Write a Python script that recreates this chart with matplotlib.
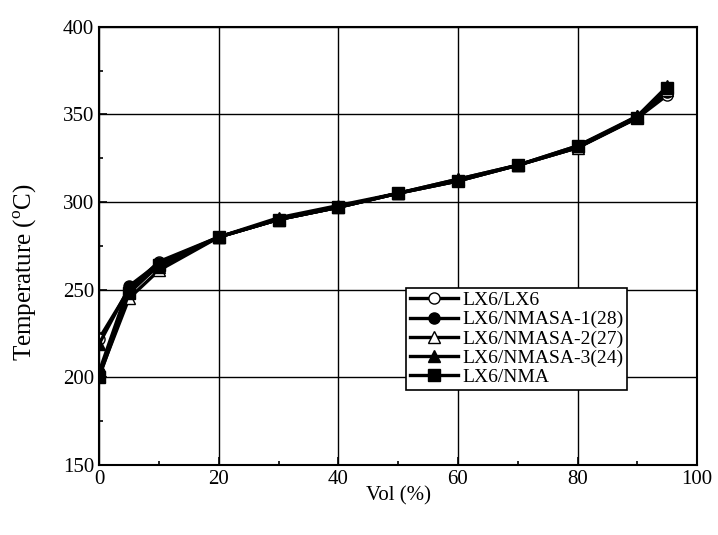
import numpy as np
import matplotlib
matplotlib.use("Agg")
import matplotlib.pyplot as plt
from matplotlib.ticker import MultipleLocator

plt.rcParams['font.family'] = ['Liberation Serif', 'DejaVu Serif']
plt.rcParams['mathtext.fontset'] = 'custom'
plt.rcParams['mathtext.rm'] = 'Liberation Serif'

# distillation volume (%) and temperatures for each blend
vol = [0, 5, 10, 20, 30, 40, 50, 60, 70, 80, 90, 95]
lx6_lx6 = [222, 250, 266, 280, 290, 297, 305, 312, 321, 331, 348, 361]
lx6_nmasa1 = [203, 252, 265, 280, 290, 297, 305, 312, 321, 331, 348, 363]
lx6_nmasa2 = [201, 245, 261, 280, 290, 297, 305, 313, 321, 331, 349, 364]
lx6_nmasa3 = [219, 251, 263, 280, 291, 298, 305, 313, 321, 332, 349, 366]
lx6_nma = [200, 248, 264, 280, 290, 297, 305, 312, 321, 332, 348, 365]

names = ['LX6/LX6', 'LX6/NMASA-1(28)', 'LX6/NMASA-2(27)', 'LX6/NMASA-3(24)', 'LX6/NMA']
series = [lx6_lx6, lx6_nmasa1, lx6_nmasa2, lx6_nmasa3, lx6_nma]
markers = ['o', 'o', '^', '^', 's']
fills = ['white', 'black', 'white', 'black', 'black']

fig = plt.figure(figsize=(7.18, 5.35), dpi=100)
ax = fig.add_axes([0.138, 0.131, 0.833, 0.819])

for name, y, m, fc in zip(names, series, markers, fills):
    ax.plot(vol, y, color='black', lw=2.4, marker=m, ms=8,
            markerfacecolor=fc, markeredgecolor='black', mew=1.0, label=name)

ax.set_xlim(0, 100)
ax.set_ylim(150, 400)
ax.xaxis.set_major_locator(MultipleLocator(20))
ax.xaxis.set_minor_locator(MultipleLocator(10))
ax.yaxis.set_major_locator(MultipleLocator(50))
ax.yaxis.set_minor_locator(MultipleLocator(25))
ax.tick_params(which='both', direction='in', labelsize=15, width=1.2)
ax.tick_params(which='major', length=6)
ax.tick_params(which='minor', length=3)
ax.grid(True, which='major', color='black', lw=1)
for s in ax.spines.values():
    s.set_linewidth(1.5)

ax.set_xlabel('Vol (%)', fontsize=15, labelpad=-2)
ax.set_ylabel(r'Temperature ($^{\mathrm{o}}$C)', fontsize=18)
ax.yaxis.set_label_coords(-0.1, 0.44)

leg = ax.legend(loc='lower left', bbox_to_anchor=(0.513, 0.171), fontsize=14,
                frameon=True, fancybox=False, framealpha=1, edgecolor='black',
                handlelength=2.5, handletextpad=0.2, borderpad=0.2,
                labelspacing=0.08, borderaxespad=0)
leg.get_frame().set_linewidth(1.2)

fig.savefig('out.png', dpi=100)
